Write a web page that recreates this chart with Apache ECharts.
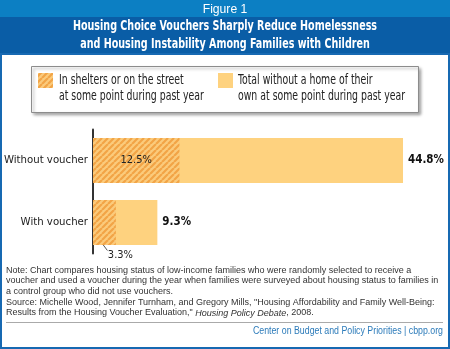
<!DOCTYPE html>
<html><head><meta charset="utf-8">
<script src="https://cdn.jsdelivr.net/npm/echarts@6/dist/echarts.min.js"></script>
<style>html,body{margin:0;padding:0;background:#fff}#c{width:450px;height:349px}</style>
</head><body><div id="c"></div>
<script>
// ---- data ----
const categories = ['Without voucher', 'With voucher'];
const totalWithoutHome = [44.8, 9.3];
const inSheltersOrStreet = [12.5, 3.3];
const figureLabel = 'Figure 1';
const titleLines = ['Housing Choice Vouchers Sharply Reduce Homelessness', 'and Housing Instability Among Families with Children'];
const legendLabels = ['In shelters or on the street\nat some point during past year', 'Total without a home of their\nown at some point during past year'];
const noteLines = [
  'Note: Chart compares housing status of low-income families who were randomly selected to receive a',
  'voucher and used a voucher during the year when families were surveyed about housing status to families in',
  'a control group who did not use vouchers.'
];
const sourceLines = [
  'Source: Michelle Wood, Jennifer Turnham, and Gregory Mills, "Housing Affordability and Family Well-Being:',
  'Results from the Housing Voucher Evaluation," {i|Housing Policy Debate}, 2008.'
];
const footerText = 'Center on Budget and Policy Priorities | cbpp.org';

// ---- styles ----
const FC = "'DejaVu Sans Condensed','Liberation Sans',sans-serif";
const FS = "'Liberation Sans',Arial,sans-serif";
const LIGHT = '#FED27F';
function hatchCanvas() {
  const s = 6, c = document.createElement('canvas');
  c.width = c.height = s;
  const g = c.getContext('2d');
  g.fillStyle = '#FBCB7C'; g.fillRect(0, 0, s, s);
  g.strokeStyle = '#F2A446'; g.lineWidth = 2.2;
  g.beginPath();
  for (let k = -s; k <= 2 * s; k += s) { g.moveTo(k, s); g.lineTo(k + s, 0); }
  g.stroke();
  return c;
}
const HATCH = { image: hatchCanvas(), repeat: 'repeat' };
const pct = p => Number(p.value).toFixed(1) + '%';

const chart = echarts.init(document.getElementById('c'), null, { renderer: 'canvas' });

const graphics = [
  { type: 'rect', shape: { x: 0, y: 0, width: 450, height: 349 }, style: { fill: '#fff' }, z: -10 },
  { type: 'rect', shape: { x: 0, y: 0, width: 450, height: 17 }, style: { fill: '#0C7FC3' }, z: -5 },
  { type: 'rect', shape: { x: 0, y: 17, width: 450, height: 37 }, style: { fill: '#0A5DA6' }, z: -5 },
  { type: 'rect', shape: { x: 1, y: 54, width: 448, height: 294 }, style: { fill: 'none', stroke: '#1769B2', lineWidth: 2 }, z: -4 },
  { type: 'text', x: 225, y: 9, scaleX: 0.9, style: { text: figureLabel, fill: '#fff', font: "13.5px " + FS, align: 'center', verticalAlign: 'middle' } },
  { type: 'text', x: 225, y: 26.5, scaleX: 0.76, style: { text: titleLines[0], fill: '#fff', font: "bold 14px " + FC, align: 'center', verticalAlign: 'middle' } },
  { type: 'text', x: 225, y: 44, scaleX: 0.76, style: { text: titleLines[1], fill: '#fff', font: "bold 14px " + FC, align: 'center', verticalAlign: 'middle' } },
  // legend box
  { type: 'rect', shape: { x: 31.5, y: 66.5, width: 387, height: 46 }, style: { fill: '#fff', stroke: '#8c8c8c', lineWidth: 1, shadowBlur: 3, shadowOffsetX: 2, shadowOffsetY: 2, shadowColor: 'rgba(0,0,0,0.35)' } },
  { type: 'rect', shape: { x: 38, y: 73, width: 15, height: 15 }, style: { fill: HATCH } },
  { type: 'text', x: 59, y: 72.7, scaleX: 0.77, style: { text: legendLabels[0], fill: '#222', font: "13.5px " + FC, lineHeight: 16, verticalAlign: 'top' } },
  { type: 'rect', shape: { x: 218, y: 73, width: 15, height: 15 }, style: { fill: LIGHT } },
  { type: 'text', x: 238, y: 72.7, scaleX: 0.77, style: { text: legendLabels[1], fill: '#222', font: "13.5px " + FC, lineHeight: 16, verticalAlign: 'top' } },
  // notes
  { type: 'text', x: 6, y: 265, style: { text: noteLines.join('\n'), fill: '#333', font: "9px " + FS, lineHeight: 10.5, verticalAlign: 'top' } },
  { type: 'text', x: 6, y: 298, style: { text: sourceLines.join('\n'), fill: '#333', font: "9px " + FS, lineHeight: 10, verticalAlign: 'top', rich: { i: { font: "italic 9px " + FS, fill: '#333' } } } },
  { type: 'line', shape: { x1: 6, y1: 322.5, x2: 443, y2: 322.5 }, style: { stroke: '#aaa', lineWidth: 1 } },
  { type: 'text', x: 443, y: 331, scaleX: 0.88, style: { text: footerText, fill: '#2C7BBA', font: "10px " + FS, align: 'right', verticalAlign: 'middle' } }
];

const shelterData = inSheltersOrStreet.map((v, i) => (
  i === 0 ? { value: v, label: { position: 'inside' } }
          : { value: v, label: { position: 'bottom', distance: 5, offset: [16, 0] } }
));

chart.setOption({
  animation: false,
  backgroundColor: 'transparent',
  grid: { left: 93, right: 11, top: 129.5, bottom: 95.5, containLabel: false, outerBoundsMode: 'none' },
  xAxis: { type: 'value', min: 0, max: 50, show: false },
  yAxis: {
    type: 'category', data: categories, inverse: true,
    axisLine: { show: true, lineStyle: { color: '#333', width: 2 } },
    axisTick: { show: false },
    axisLabel: { fontFamily: FC, fontSize: 11.3, color: '#222', margin: 5 }
  },
  series: [
    { type: 'bar', name: 'total', data: totalWithoutHome, barWidth: 45, itemStyle: { color: LIGHT },
      label: { show: true, position: 'right', distance: 5, formatter: pct, fontFamily: FC, fontWeight: 'bold', fontSize: 11.5, color: '#111' }, z: 2 },
    { type: 'bar', name: 'shelter', data: shelterData, barWidth: 45, barGap: '-100%', itemStyle: { color: HATCH },
      label: { show: true, formatter: pct, fontFamily: FC, fontSize: 11, color: '#222' }, z: 3 }
  ],
  graphic: graphics
});

// leader line for the small label, placed through the axis scales
const p0 = chart.convertToPixel({ xAxisIndex: 0, yAxisIndex: 0 }, [inSheltersOrStreet[1] / 2, categories[1]]);
graphics.push({ type: 'line', shape: { x1: p0[0] - 1.5, y1: p0[1] + 22, x2: p0[0] + 3, y2: p0[1] + 28 }, style: { stroke: '#555', lineWidth: 1 } });
chart.setOption({ graphic: graphics });
</script>
</body></html>
